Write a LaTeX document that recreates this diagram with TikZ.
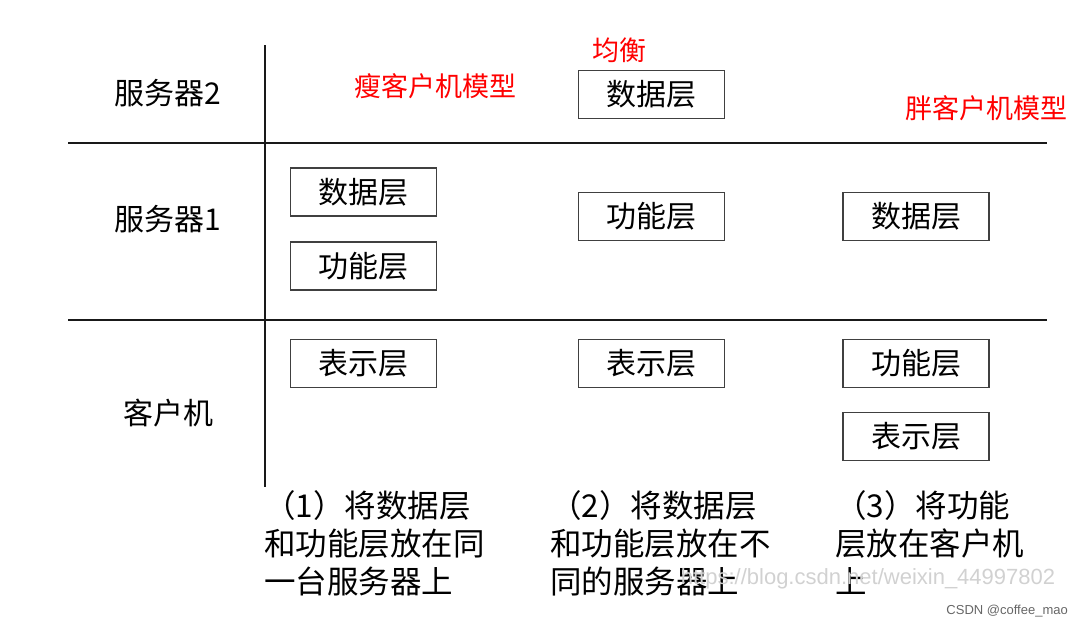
\documentclass[tikz,border=0pt]{standalone}
\usepackage{fontspec}
\setmainfont{Noto Sans CJK SC}
\newfontfamily\wmfont{Liberation Sans}
\begin{document}
\begin{tikzpicture}[x=1pt,y=-1pt,
  layer/.style={draw=black!75,line width=1.6pt,minimum width=146pt,minimum height=48pt,inner sep=0pt,font=\fontsize{30}{32}\selectfont},
  rowlabel/.style={inner sep=0pt,font=\fontsize{30}{32}\selectfont},
  note/.style={inner sep=0pt,text=red,font=\fontsize{27}{30}\selectfont},
  caption/.style={inner sep=0pt,anchor=north west,align=left,font=\fontsize{31.5}{38}\selectfont},
  rule/.style={line width=2.5pt,black!90}]
\useasboundingbox (0,0) rectangle (1080,627);
% grid lines
\coordinate (vt) at (265,45);
\coordinate (vb) at (265,487);
\coordinate (h1l) at (68,143);
\coordinate (h1r) at (1047,143);
\coordinate (h2l) at (68,320);
\coordinate (h2r) at (1047,320);
\draw[rule] (vt) -- (vb);
\draw[rule] (h1l) -- (h1r);
\draw[rule] (h2l) -- (h2r);
% row labels
\node[rowlabel] (s2) at (168,93) {服务器2};
\node[rowlabel] (s1) at (168,219) {服务器1};
\node[rowlabel] (cl) at (168,413) {客户机};
% red notes
\node[note] (thin) at (435,86) {瘦客户机模型};
\node[note] (bal) at (619,50) {均衡};
\node[note] (fat) at (986,108) {胖客户机模型};
% column 1
\node[layer] (a1) at (363.5,192) {数据层};
\node[layer] (a2) at (363.5,266) {功能层};
\node[layer] (a3) at (363.5,363.5) {表示层};
% column 2
\node[layer] (b1) at (651.5,94.5) {数据层};
\node[layer] (b2) at (651.5,216.5) {功能层};
\node[layer] (b3) at (651.5,363.5) {表示层};
% column 3
\node[layer] (c1) at (916,216.5) {数据层};
\node[layer] (c2) at (916,363.5) {功能层};
\node[layer] (c3) at (916,436.5) {表示层};
% captions
\node[caption] (t1) at (264,490) {（1）将数据层\\和功能层放在同\\一台服务器上};
\node[caption] (t2) at (550,490) {（2）将数据层\\和功能层放在不\\同的服务器上};
\node[caption] (t3) at (835,490) {（3）将功能\\层放在客户机\\上};
% watermarks
\node[inner sep=0pt,text=black!18,font=\wmfont\fontsize{22}{24}\selectfont] (wm) at (868,579) {https://blog.csdn.net/weixin\_44997802};
\node[inner sep=0pt,text=black!60,font=\wmfont\fontsize{13}{15}\selectfont,anchor=east] (wm2) at (1068,611) {CSDN @coffee\_mao};
\end{tikzpicture}
\end{document}
